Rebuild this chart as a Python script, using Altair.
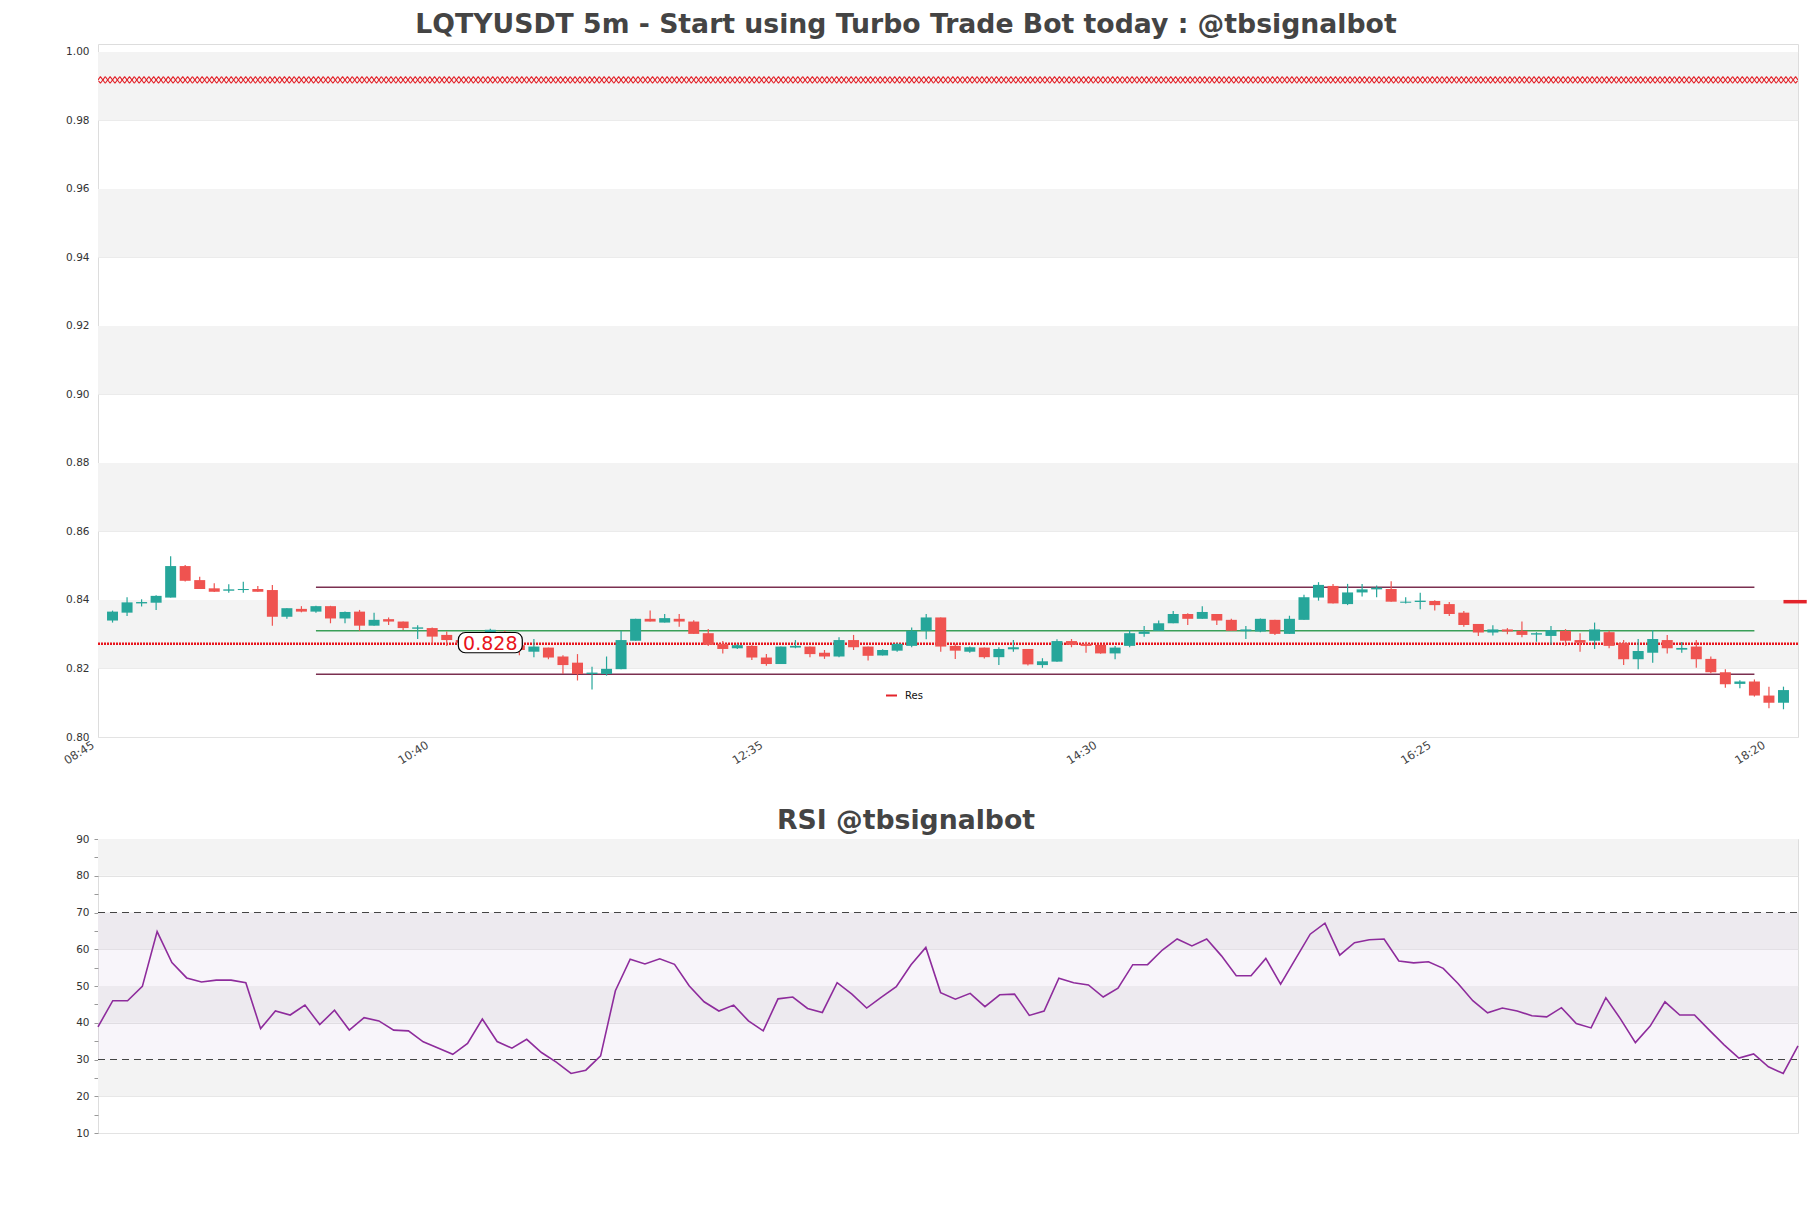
import altair as alt
import pandas as pd

DAY = "2024-01-01"
W_PLOT = 1700
H_MAIN = 693
H_RSI = 294

# ---------------- data ----------------
candle_times = [t.strftime("%H:%M") for t in pd.date_range(f"{DAY} 08:50", periods=116, freq="5min")]

opens = [0.8340, 0.8363, 0.8390, 0.8392, 0.8407, 0.8499, 0.8458, 0.8434, 0.8427, 0.8429,
         0.8432, 0.8429, 0.8351, 0.8374, 0.8366, 0.8382, 0.8346, 0.8366, 0.8325, 0.8344,
         0.8337, 0.8316, 0.8318, 0.8298, 0.8283, 0.8275, 0.8283, 0.8307, 0.8268, 0.8249,
         0.8261, 0.8235, 0.8217, 0.8184, 0.8184, 0.8198, 0.8281, 0.8345, 0.8334, 0.8345,
         0.8337, 0.8303, 0.8272, 0.8259, 0.8266, 0.8232, 0.8213, 0.8261, 0.8264, 0.8246,
         0.8235, 0.8283, 0.8264, 0.8238, 0.8252, 0.8266, 0.8310, 0.8349, 0.8266, 0.8249,
         0.8261, 0.8233, 0.8256, 0.8257, 0.8210, 0.8220, 0.8280, 0.8272, 0.8269, 0.8244,
         0.8266, 0.8301, 0.8310, 0.8332, 0.8359, 0.8345, 0.8359, 0.8342, 0.8309, 0.8308,
         0.8342, 0.8301, 0.8342, 0.8407, 0.8441, 0.8388, 0.8422, 0.8431, 0.8432, 0.8392,
         0.8394, 0.8397, 0.8388, 0.8363, 0.8330, 0.8305, 0.8314, 0.8310, 0.8299, 0.8295,
         0.8310, 0.8283, 0.8281, 0.8306, 0.8274, 0.8227, 0.8246, 0.8283, 0.8255, 0.8264,
         0.8228, 0.8189, 0.8155, 0.8162, 0.8121, 0.8100]
highs = [0.8369, 0.8408, 0.8402, 0.8414, 0.8528, 0.8502, 0.8468, 0.8449, 0.8446, 0.8453,
         0.8441, 0.8444, 0.8376, 0.8382, 0.8383, 0.8383, 0.8366, 0.8371, 0.8363, 0.8349,
         0.8337, 0.8326, 0.8320, 0.8308, 0.8286, 0.8288, 0.8316, 0.8310, 0.8270, 0.8286,
         0.8261, 0.8239, 0.8242, 0.8205, 0.8235, 0.8310, 0.8345, 0.8369, 0.8359, 0.8359,
         0.8341, 0.8315, 0.8280, 0.8272, 0.8268, 0.8242, 0.8264, 0.8283, 0.8264, 0.8254,
         0.8291, 0.8298, 0.8264, 0.8256, 0.8274, 0.8320, 0.8359, 0.8349, 0.8272, 0.8264,
         0.8261, 0.8262, 0.8283, 0.8257, 0.8230, 0.8285, 0.8286, 0.8278, 0.8269, 0.8266,
         0.8312, 0.8324, 0.8340, 0.8368, 0.8361, 0.8382, 0.8359, 0.8345, 0.8324, 0.8346,
         0.8342, 0.8354, 0.8415, 0.8452, 0.8447, 0.8447, 0.8447, 0.8442, 0.8455, 0.8408,
         0.8421, 0.8399, 0.8394, 0.8368, 0.8330, 0.8326, 0.8318, 0.8337, 0.8306, 0.8324,
         0.8315, 0.8303, 0.8334, 0.8310, 0.8283, 0.8286, 0.8312, 0.8298, 0.8277, 0.8283,
         0.8235, 0.8198, 0.8166, 0.8168, 0.8147, 0.8147]
lows = [0.8334, 0.8353, 0.8381, 0.8371, 0.8407, 0.8454, 0.8432, 0.8423, 0.8421, 0.8421,
        0.8424, 0.8325, 0.8345, 0.8364, 0.8363, 0.8332, 0.8332, 0.8310, 0.8325, 0.8327,
        0.8312, 0.8286, 0.8269, 0.8266, 0.8270, 0.8270, 0.8280, 0.8268, 0.8239, 0.8233,
        0.8227, 0.8184, 0.8165, 0.8139, 0.8179, 0.8198, 0.8281, 0.8337, 0.8334, 0.8322,
        0.8301, 0.8266, 0.8244, 0.8257, 0.8225, 0.8208, 0.8213, 0.8259, 0.8233, 0.8228,
        0.8233, 0.8254, 0.8223, 0.8238, 0.8249, 0.8262, 0.8285, 0.8249, 0.8228, 0.8246,
        0.8229, 0.8210, 0.8249, 0.8209, 0.8202, 0.8220, 0.8262, 0.8246, 0.8243, 0.8227,
        0.8262, 0.8293, 0.8310, 0.8332, 0.8327, 0.8345, 0.8327, 0.8310, 0.8286, 0.8306,
        0.8298, 0.8301, 0.8342, 0.8398, 0.8390, 0.8385, 0.8410, 0.8408, 0.8395, 0.8390,
        0.8373, 0.8369, 0.8353, 0.8322, 0.8295, 0.8296, 0.8300, 0.8291, 0.8278, 0.8269,
        0.8266, 0.8249, 0.8257, 0.8259, 0.8210, 0.8198, 0.8217, 0.8244, 0.8246, 0.8202,
        0.8186, 0.8144, 0.8142, 0.8118, 0.8084, 0.8081]
closes = [0.8366, 0.8393, 0.8394, 0.8412, 0.8499, 0.8456, 0.8432, 0.8424, 0.8431, 0.8432,
          0.8424, 0.8351, 0.8376, 0.8366, 0.8382, 0.8346, 0.8365, 0.8325, 0.8342, 0.8337,
          0.8318, 0.8320, 0.8293, 0.8283, 0.8275, 0.8283, 0.8313, 0.8272, 0.8254, 0.8264,
          0.8232, 0.8210, 0.8184, 0.8188, 0.8199, 0.8283, 0.8345, 0.8337, 0.8347, 0.8337,
          0.8301, 0.8269, 0.8257, 0.8268, 0.8232, 0.8213, 0.8264, 0.8266, 0.8242, 0.8235,
          0.8283, 0.8262, 0.8237, 0.8254, 0.8272, 0.8310, 0.8349, 0.8264, 0.8252, 0.8262,
          0.8233, 0.8257, 0.8262, 0.8212, 0.8221, 0.8280, 0.8269, 0.8266, 0.8244, 0.8261,
          0.8303, 0.8308, 0.8332, 0.8359, 0.8345, 0.8365, 0.8340, 0.8310, 0.8314, 0.8345,
          0.8301, 0.8345, 0.8408, 0.8444, 0.8390, 0.8422, 0.8431, 0.8436, 0.8395, 0.8395,
          0.8398, 0.8385, 0.8359, 0.8327, 0.8305, 0.8314, 0.8308, 0.8298, 0.8303, 0.8312,
          0.8281, 0.8275, 0.8314, 0.8266, 0.8227, 0.8251, 0.8286, 0.8259, 0.8260, 0.8227,
          0.8189, 0.8154, 0.8162, 0.8121, 0.8100, 0.8137]
rsi = [38.9, 46.0, 46.0, 49.9, 64.8, 56.4, 52.2, 51.1, 51.6, 51.6,
       50.9, 38.4, 43.2, 42.1, 44.8, 39.5, 43.4, 38.0, 41.4, 40.5,
       38.0, 37.8, 34.8, 33.1, 31.4, 34.4, 41.0, 34.9, 33.1, 35.5,
       31.9, 29.3, 26.2, 27.1, 31.0, 48.7, 57.3, 56.0, 57.4, 55.9,
       50.0, 45.7, 43.2, 44.8, 40.5, 37.8, 46.5, 47.0, 43.9, 42.8,
       50.9, 47.8, 44.0, 47.0, 49.8, 55.8, 60.5, 48.2, 46.4, 48.0,
       44.4, 47.6, 47.8, 42.0, 43.2, 52.1, 50.9, 50.3, 47.0, 49.4,
       55.8, 55.8, 59.8, 62.8, 60.9, 62.8, 58.2, 52.8, 52.8, 57.5,
       50.5, 57.3, 64.1, 67.1, 58.4, 61.8, 62.6, 62.8, 56.8, 56.3,
       56.6, 54.8, 50.7, 46.0, 42.7, 44.0, 43.2, 41.9, 41.6, 44.1,
       39.8, 38.6, 46.8, 41.0, 34.6, 39.1, 45.7, 42.1, 42.1, 38.0,
       34.0, 30.4, 31.5, 28.0, 26.2, 33.7]

x_tick_labels = ["08:45", "10:40", "12:35", "14:30", "16:25", "18:20"]
x_domain_main = ["08:45", "18:30"]
marker_times = [t.strftime("%H:%M") for t in pd.date_range(f"{DAY} 08:45", f"{DAY} 18:30", freq="5min")]
price_ticks = [0.80, 0.82, 0.84, 0.86, 0.88, 0.90, 0.92, 0.94, 0.96, 0.98, 1.00]
price_domain = [0.80, 1.0023]
price_band_lo = [0.82, 0.86, 0.90, 0.94, 0.98]
price_band_hi = [0.84, 0.88, 0.92, 0.96, 1.00]

res_levels = [0.8437, 0.8310, 0.8183]
res_colors = ["#7b2f50", "#3a9f58", "#7b2f50"]
res_span = ["10:00", "18:15"]
dotted_level = 0.8272
top_marker_level = 0.9918
price_label = "0.828"
price_label_time = "11:00"
price_label_box = ["10:49", "11:11", 0.8246, 0.8305]
last_mark = ["18:25", "18:33", 0.8395]
legend_name = "Res"

rsi_ticks = [10, 15, 20, 25, 30, 35, 40, 45, 50, 55, 60, 65, 70, 75, 80, 85, 90]
rsi_band_lo = [20, 40, 60, 80]
rsi_band_hi = [30, 50, 70, 90]
rsi_levels = [70, 30]
rsi_zone = [30, 70]

GREEN = "#26a69a"
RED = "#ef5350"
FONT = "DejaVu Sans"


def iso(hm):
    return f"{DAY}T{hm}:00Z"


def dt(hm):
    h, m = hm.split(":")
    return alt.DateTime(year=2024, month=1, date=1, hours=int(h), minutes=int(m), utc=True)


# ---------------- tables ----------------
candles = pd.DataFrame({"t": [iso(t) for t in candle_times], "open": opens, "high": highs,
                        "low": lows, "close": closes})
rsi_df = pd.DataFrame({"t": [iso(t) for t in candle_times], "rsi": rsi})
bands = pd.DataFrame({"lo": price_band_lo, "hi": price_band_hi})
res_df = pd.DataFrame({"t1": iso(res_span[0]), "t2": iso(res_span[1]), "v": res_levels, "c": res_colors})
dotted_df = pd.DataFrame({"v": [dotted_level]})
top_df = pd.DataFrame({"t": [iso(t) for t in marker_times], "v": top_marker_level})
lab_box = pd.DataFrame({"t1": [iso(price_label_box[0])], "t2": [iso(price_label_box[1])],
                        "v1": [price_label_box[2]], "v2": [price_label_box[3]]})
lab_txt = pd.DataFrame({"t": [iso(price_label_time)], "v": [dotted_level], "txt": [price_label]})
last_df = pd.DataFrame({"t1": [iso(last_mark[0])], "t2": [iso(last_mark[1])], "v": [last_mark[2]],
                        "name": [legend_name]})

xscale_main = alt.Scale(type="utc", domain=[dt(x_domain_main[0]), dt(x_domain_main[1])], padding=0)
xaxis_main = alt.Axis(values=[dt(v) for v in x_tick_labels], format="%H:%M", labelAngle=-32,
                      labelAlign="right", labelBaseline="top", labelFontSize=11.5, labelColor="#444",
                      labelFont=FONT, grid=False, ticks=False, domain=False, labelPadding=2,
                      labelOffset=-8, minExtent=45, maxExtent=45, title=None)
yscale_main = alt.Scale(domain=price_domain, nice=False, zero=False)
yaxis_main = alt.Axis(values=price_ticks, format=".2f", labelFontSize=10.5, labelColor="#333",
                      labelFont=FONT, grid=True, gridColor="#e3e3e3", ticks=False, domain=False,
                      labelPadding=9, minExtent=40, maxExtent=40, title=None)


def X(field):
    return alt.X(f"{field}:T", scale=xscale_main, axis=xaxis_main)


def Y(field):
    return alt.Y(f"{field}:Q", scale=yscale_main, axis=yaxis_main)


band_layer = alt.Chart(bands).mark_rect(color="#f3f3f3").encode(
    y=Y("lo"), y2="hi:Q", x=alt.value(0), x2=alt.value(W_PLOT))

xpath = ("M-1,-0.45L-0.333,0.45M-1,0.45L-0.333,-0.45"
         "M-0.333,-0.45L0.333,0.45M-0.333,0.45L0.333,-0.45"
         "M0.333,-0.45L1,0.45M0.333,0.45L1,-0.45")
top_layer = alt.Chart(top_df).mark_point(shape=xpath, size=211, filled=False, color="#e3242b",
                                         strokeWidth=1.1, opacity=1, clip=True).encode(x=X("t"), y=Y("v"))

res_layer = alt.Chart(res_df).mark_rule(strokeWidth=1.4).encode(
    x=X("t1"), x2="t2:T", y=Y("v"), color=alt.Color("c:N", scale=None))

dotted_layer = alt.Chart(dotted_df).mark_rule(color="#e8141c", strokeWidth=2.5, strokeDash=[2, 1]).encode(
    y=Y("v"), x=alt.value(0), x2=alt.value(W_PLOT))

cond_color = alt.condition("datum.close >= datum.open", alt.value(GREEN), alt.value(RED))
wick_layer = alt.Chart(candles).mark_rule(strokeWidth=1.2).encode(
    x=X("t"), y=Y("low"), y2="high:Q", color=cond_color)
body_layer = alt.Chart(candles).mark_bar(size=11).encode(
    x=X("t"), y=Y("open"), y2="close:Q", color=cond_color)

box_layer = alt.Chart(lab_box).mark_rect(fill="white", stroke="black", strokeWidth=1.2,
                                         cornerRadius=7).encode(
    x=X("t1"), x2="t2:T", y=Y("v1"), y2="v2:Q")
txt_layer = alt.Chart(lab_txt).mark_text(color="#e8141c", fontSize=19, font=FONT,
                                         align="center", baseline="middle").encode(
    x=X("t"), y=Y("v"), text="txt:N")

last_layer = alt.Chart(last_df).mark_rule(strokeWidth=3.5, clip=False).encode(
    x=X("t1"), x2="t2:T", y=Y("v"),
    color=alt.Color("name:N", scale=alt.Scale(domain=[legend_name], range=["#e3242b"]),
                    legend=alt.Legend(orient="none", legendX=787, legendY=645, title=None,
                                      symbolType="stroke", symbolSize=121, symbolStrokeWidth=2,
                                      labelFontSize=10, labelFont=FONT, labelColor="#111",
                                      labelOffset=7, padding=0)))

main = alt.layer(band_layer, top_layer, res_layer, dotted_layer, wick_layer, body_layer,
                 box_layer, txt_layer, last_layer).properties(
    width=W_PLOT, height=H_MAIN,
    title=alt.TitleParams("LQTYUSDT 5m - Start using Turbo Trade Bot today : @tbsignalbot",
                          fontSize=26.7, font=FONT, fontWeight="bold", color="#444",
                          anchor="middle", offset=5, dx=-42))

# ---------------- RSI ----------------
xscale_rsi = alt.Scale(type="utc", domain=[dt(candle_times[0]), dt(candle_times[-1])], padding=0)
yscale_rsi = alt.Scale(domain=[10, 90], nice=False, zero=False)
yaxis_rsi = alt.Axis(values=rsi_ticks, labelExpr="datum.value % 10 === 0 ? datum.label : ''",
                     labelFontSize=10.5, labelColor="#333", labelFont=FONT, grid=True,
                     gridColor="#e3e3e3",
                     gridOpacity={"condition": {"test": "datum.value % 10 === 0", "value": 1}, "value": 0},
                     ticks=True, tickSize=4, tickColor="#999", domain=False, labelPadding=5,
                     minExtent=40, maxExtent=40, title=None)


def YR(field):
    return alt.Y(f"{field}:Q", scale=yscale_rsi, axis=yaxis_rsi)


rsi_bands = pd.DataFrame({"lo": rsi_band_lo, "hi": rsi_band_hi})
rsi_zone_df = pd.DataFrame({"lo": [rsi_zone[0]], "hi": [rsi_zone[1]]})
rsi_lvl_df = pd.DataFrame({"v": rsi_levels})

r_band = alt.Chart(rsi_bands).mark_rect(color="#f3f3f3").encode(
    y=YR("lo"), y2="hi:Q", x=alt.value(0), x2=alt.value(W_PLOT))
r_zone = alt.Chart(rsi_zone_df).mark_rect(color="#cdb8da", opacity=0.14).encode(
    y=YR("lo"), y2="hi:Q", x=alt.value(0), x2=alt.value(W_PLOT))
r_lvl = alt.Chart(rsi_lvl_df).mark_rule(color="#444", strokeWidth=1.2, strokeDash=[7, 5]).encode(
    y=YR("v"), x=alt.value(0), x2=alt.value(W_PLOT))
r_line = alt.Chart(rsi_df).mark_line(color="#8e2c9c", strokeWidth=1.6).encode(
    x=alt.X("t:T", scale=xscale_rsi, axis=None), y=YR("rsi"))

rsi_chart = alt.layer(r_band, r_zone, r_lvl, r_line).properties(
    width=W_PLOT, height=H_RSI,
    title=alt.TitleParams("RSI @tbsignalbot", fontSize=26.7, font=FONT, fontWeight="bold",
                          color="#444", anchor="middle", offset=-1, dx=-42))

chart = alt.vconcat(main, rsi_chart, spacing=24).resolve_legend(color="independent").properties(
    padding={"left": 57, "top": 11, "right": 2, "bottom": 10}
).configure_view(stroke="#d9d9d9", strokeWidth=1).configure(font=FONT, background="white")

chart.save("out.html", embed_options={"renderer": "svg", "actions": False})
